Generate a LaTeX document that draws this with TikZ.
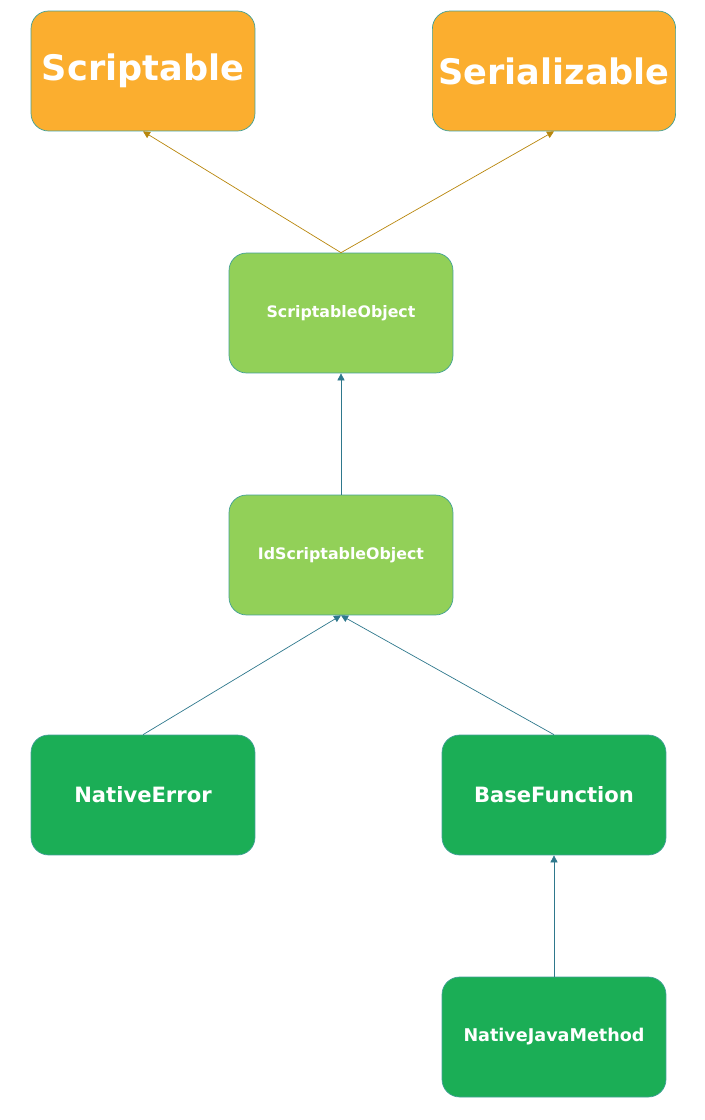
\documentclass[tikz,border=0pt]{standalone}
\usepackage{fontspec}
\setmainfont{DejaVu Sans}
\definecolor{boxorange}{RGB}{251,174,47}
\definecolor{boxlime}{RGB}{146,208,88}
\definecolor{boxgreen}{RGB}{27,174,86}
\definecolor{boxline}{RGB}{64,160,150}
\definecolor{linkorange}{RGB}{184,134,11}
\definecolor{linkteal}{RGB}{46,120,140}
\usetikzlibrary{arrows.meta}

\begin{document}
\begin{tikzpicture}[x=0.02cm,y=-0.02cm,
    box/.style={draw=boxline,rounded corners=10pt,minimum width=4.48cm,
      minimum height=2.4cm,text=white,font=\bfseries},
    link/.style={-{Triangle[length=4pt,width=4pt]},draw=linkteal}]
  \useasboundingbox (0,0) rectangle (704,1120);

  \node[box,fill=boxorange,font=\bfseries\fontsize{20}{24}\selectfont] (script) at (143,71) {Scriptable};
  \node[box,fill=boxorange,font=\bfseries\fontsize{20}{24}\selectfont] (serial) at (554,71) {Serializable};
  \node[box,fill=boxlime,font=\bfseries\small] (sobj) at (341,313) {ScriptableObject};
  \node[box,fill=boxlime,font=\bfseries\small] (idobj) at (341,555) {IdScriptableObject};
  \node[box,fill=boxgreen,font=\bfseries\large] (nerr) at (143,795) {NativeError};
  \node[box,fill=boxgreen,font=\bfseries\large] (bfun) at (554,795) {BaseFunction};
  \node[box,fill=boxgreen,font=\bfseries] (njm) at (554,1037) {NativeJavaMethod};

  \draw[link,draw=linkorange] (sobj.north) -- (script.south);
  \draw[link,draw=linkorange] (sobj.north) -- (serial.south);
  \draw[link] (idobj) -- (sobj);
  \draw[link] (nerr.north) -- (idobj.south);
  \draw[link] (bfun.north) -- (idobj.south);
  \draw[link] (njm) -- (bfun);
\end{tikzpicture}
\end{document}
